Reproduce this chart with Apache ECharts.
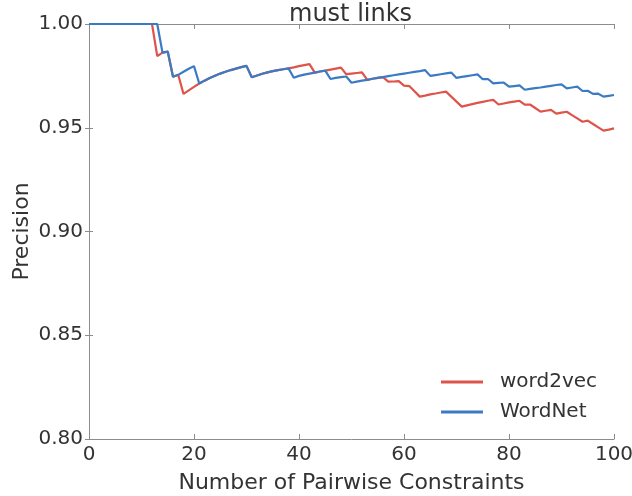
<!DOCTYPE html>
<html>
<head>
<meta charset="utf-8">
<script src="https://cdn.jsdelivr.net/npm/echarts@6/dist/echarts.min.js"></script>
<style>
html,body{margin:0;padding:0;background:#fff;}
#chart{width:632px;height:496px;}
</style>
</head>
<body>
<div id="chart"></div>
<script>
var titleText = "must links";
var xName = "Number of Pairwise Constraints";
var yName = "Precision";
var seriesNames = ["word2vec", "WordNet"];
var xTicks = [0, 20, 40, 60, 80, 100];
var yTicks = [0.80, 0.85, 0.90, 0.95, 1.00];

// values at x = 0, 1, 2, ..., 100
var word2vec = [
  1.0,1.0,1.0,1.0,1.0,1.0,1.0,1.0,1.0,1.0,1.0,1.0,1.0,
  0.9845,0.9862,0.9867,0.9746,0.9755,0.9663,0.9680,0.9697,
  0.9713,0.9727,0.9740,0.9751,0.9761,0.9770,0.9778,0.9785,0.9792,0.9798,
  0.9743,0.9752,0.9760,0.9767,0.9773,0.9778,0.9782,0.9786,
  0.9791,0.9797,0.9802,0.9807,
  0.9766,0.9771,0.9775,0.9780,0.9785,0.9790,
  0.9758,0.9761,0.9764,0.9767,
  0.9731,0.9736,0.9740,0.9744,
  0.9722,0.9723,0.9725,0.9703,0.9701,0.9676,0.9650,
  0.9655,0.9661,0.9665,0.9670,0.9674,
  0.9650,0.9626,0.9602,
  0.9608,0.9614,0.9620,0.9625,0.9630,0.9634,
  0.9612,0.9617,0.9622,0.9626,0.9630,
  0.9611,0.9612,0.9595,0.9578,0.9582,0.9586,
  0.9568,0.9573,0.9577,0.9561,0.9545,0.9529,0.9534,
  0.9518,0.9502,0.9486,0.9491,0.9497
];
var wordNet = [
  1.0,1.0,1.0,1.0,1.0,1.0,1.0,1.0,1.0,1.0,1.0,1.0,1.0,1.0,
  0.9862,0.9867,0.9746,0.9755,0.9770,0.9784,0.9797,
  0.9713,0.9727,0.9740,0.9751,0.9761,0.9770,0.9778,0.9785,0.9792,0.9798,
  0.9743,0.9752,0.9760,0.9767,0.9773,0.9778,0.9782,0.9786,
  0.9741,0.9750,0.9756,0.9761,0.9766,0.9771,0.9775,
  0.9735,0.9740,0.9744,0.9747,
  0.9717,0.9722,0.9727,0.9731,0.9736,0.9740,0.9744,0.9749,0.9753,0.9757,0.9761,0.9765,0.9769,0.9773,0.9778,
  0.9750,0.9754,0.9758,0.9762,0.9766,
  0.9740,0.9745,0.9749,0.9753,0.9757,
  0.9734,0.9735,0.9714,0.9716,0.9718,
  0.9698,0.9701,0.9704,0.9683,0.9687,0.9691,0.9694,0.9698,0.9702,0.9706,0.9709,
  0.9690,0.9694,0.9698,0.9677,0.9678,0.9663,0.9664,0.9650,0.9654,0.9658
];
var colors = ["#DE544A", "#3B7BC3"];

function pairs(vals) {
  var out = [];
  for (var i = 0; i < vals.length; i++) out.push([i, vals[i]]);
  return out;
}

var FONT = "DejaVu Sans";
var TXT = "#333333";
var SPINE = "#8c8c8c";

var chart = echarts.init(document.getElementById("chart"), null, {renderer: "canvas"});
chart.setOption({
  animation: false,
  backgroundColor: "#ffffff",
  textStyle: {fontFamily: FONT},
  title: {
    text: titleText,
    left: 289,
    top: 3,
    padding: 0,
    textStyle: {fontFamily: FONT, fontSize: 24, fontWeight: "normal", color: TXT}
  },
  grid: {left: 89, right: 18, top: 24, bottom: 57, containLabel: false, outerBoundsMode: "none"},
  legend: {
    data: seriesNames,
    orient: "vertical",
    left: 441,
    top: 372,
    padding: 0,
    itemWidth: 42,
    itemHeight: 3,
    itemGap: 10,
    icon: "rect",
    textStyle: {fontFamily: FONT, fontSize: 20, color: TXT, padding: [0, 0, 0, 12]}
  },
  xAxis: [{
    type: "value",
    min: xTicks[0],
    max: xTicks[xTicks.length - 1],
    interval: 20,
    name: xName,
    nameLocation: "middle",
    nameGap: 33,
    nameMoveOverlap: false,
    nameTextStyle: {fontFamily: FONT, fontSize: 22, color: TXT},
    axisLine: {show: true, lineStyle: {color: SPINE, width: 1}},
    axisTick: {show: true, inside: true, length: 5, lineStyle: {color: SPINE}},
    axisLabel: {fontFamily: FONT, fontSize: 20, color: TXT, margin: 6},
    splitLine: {show: false}
  }, {
    type: "value",
    position: "top",
    min: xTicks[0],
    max: xTicks[xTicks.length - 1],
    interval: 20,
    axisLine: {show: true, lineStyle: {color: SPINE, width: 1}},
    axisTick: {show: true, inside: true, length: 5, lineStyle: {color: SPINE}},
    axisLabel: {show: false},
    splitLine: {show: false}
  }],
  yAxis: [{
    type: "value",
    min: yTicks[0],
    max: yTicks[yTicks.length - 1],
    interval: 0.05,
    name: yName,
    nameLocation: "middle",
    nameGap: 56,
    nameMoveOverlap: false,
    nameTextStyle: {fontFamily: FONT, fontSize: 22, color: TXT},
    axisLine: {show: true, lineStyle: {color: SPINE, width: 1}},
    axisTick: {show: true, inside: false, length: 4, lineStyle: {color: SPINE}},
    axisLabel: {fontFamily: FONT, fontSize: 20, color: TXT, margin: 6,
      formatter: function (v) { return v.toFixed(2); }},
    splitLine: {show: false}
  }, {
    type: "value",
    position: "right",
    min: yTicks[0],
    max: yTicks[yTicks.length - 1],
    interval: 0.05,
    axisLine: {show: true, lineStyle: {color: SPINE, width: 1}},
    axisTick: {show: true, inside: false, length: 4, lineStyle: {color: SPINE}},
    axisLabel: {show: false},
    splitLine: {show: false}
  }],
  series: [{
    name: seriesNames[0],
    type: "line",
    data: pairs(word2vec),
    showSymbol: false,
    symbol: "none",
    clip: false,
    color: colors[0],
    lineStyle: {width: 2.2, color: colors[0]}
  }, {
    name: seriesNames[1],
    type: "line",
    data: pairs(wordNet),
    showSymbol: false,
    symbol: "none",
    clip: false,
    color: colors[1],
    lineStyle: {width: 2.2, color: colors[1]}
  }]
});
</script>
</body>
</html>
